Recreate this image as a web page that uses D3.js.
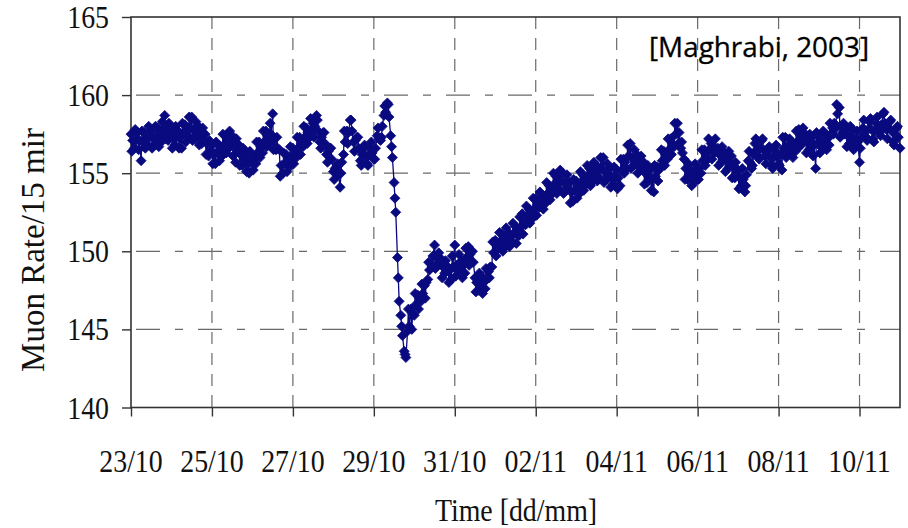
<!DOCTYPE html>
<html>
<head>
<meta charset="utf-8">
<script src="https://cdn.jsdelivr.net/npm/d3@7"></script>
<style>
  html, body { margin: 0; padding: 0; background: #fff; }
  svg { display: block; }
</style>
</head>
<body>
<svg id="chart" width="908" height="528"></svg>
<script>
// ---- data ----
const stepHours = 2;                 // each series below is sampled every 2 h
const offsetHoursC = 0.5;            // series C is read 0.5 h after series A
const offsetHoursB = 1;              // series B is read 1 h after series A
const totalDays = 19;                // 23/10 00:00 -> 11/11 00:00
const dateTickDays = [0, 2, 4, 6, 8, 10, 12, 14, 16, 18];
const dateTickLabels = ["23/10","25/10","27/10","29/10","31/10","02/11","04/11","06/11","08/11","10/11"];
const rateTicks = [140, 145, 150, 155, 160, 165];
// readings at even hours (upper / lower part of the scatter, alternately)
const rateA = [
157.5,156.6,157.6,155.8,157.6,156.8,157.7,156.8,157.9,157.0,
158.7,157.1,157.7,156.8,157.7,156.6,158.1,157.4,158.6,157.2,
158.0,156.9,157.5,156.1,156.8,155.6,156.8,156.1,157.4,156.6,
157.4,155.7,156.8,155.5,156.3,155.0,156.1,155.6,157.0,156.3,
157.7,156.9,158.8,156.5,156.5,155.0,156.2,155.4,156.6,156.0,
157.3,156.7,157.9,157.3,158.2,158.7,157.0,157.6,156.2,156.6,
155.1,155.4,154.1,156.2,157.7,158.4,157.0,157.3,155.8,156.6,
155.6,156.6,155.9,157.4,157.1,158.7,159.5,157.4,154.4,149.6,
145.9,143.6,144.9,146.3,145.9,147.2,146.8,147.8,148.2,149.2,
150.4,149.2,149.5,148.6,149.0,148.2,150.4,148.7,149.4,148.6,
150.3,149.3,148.3,147.5,148.4,147.6,148.7,149.0,150.7,150.2,
151.1,150.3,151.2,150.6,151.6,151.0,152.4,151.7,152.7,152.1,
153.4,152.8,153.6,153.1,154.2,153.7,154.8,154.0,155.0,153.9,
154.4,153.2,154.5,153.7,154.9,154.3,155.3,154.5,155.5,154.7,
156.0,154.6,155.3,154.3,155.2,154.2,155.9,155.3,156.9,155.5,
156.2,155.3,155.7,154.4,155.2,153.8,155.4,155.4,156.4,155.9,
157.2,156.7,158.2,156.6,155.9,154.6,155.2,154.4,155.3,155.0,
156.5,155.9,156.9,156.3,156.6,155.7,156.3,155.3,156.1,154.7,
155.2,154.2,153.8,155.8,155.3,156.9,156.1,157.1,156.1,156.6,
155.5,156.4,155.6,155.2,157.3,156.3,157.0,156.4,157.8,156.9,
157.5,156.5,157.3,155.3,157.4,156.6,157.5,156.8,157.9,157.9,
159.2,157.6,157.8,156.9,157.8,156.8,155.7,157.9,157.3,158.3,
157.2,158.2,157.6,158.8,157.8,158.3,157.0,157.9,156.6
];
// readings half an hour later (outer edges of the scatter)
const rateC = [
156.4,157.8,156.5,157.7,156.6,158.0,156.6,158.0,156.7,158.3,
157.2,158.2,156.6,158.0,156.6,158.2,157.0,158.6,157.1,158.3,
156.8,157.9,156.2,157.1,155.6,157.0,155.8,157.5,156.3,157.7,
156.1,157.2,155.5,156.6,155.1,156.4,155.2,157.0,156.0,157.7,
156.7,158.2,156.5,157.3,154.8,156.3,155.1,156.7,155.6,157.3,
156.2,158.0,156.9,158.5,157.3,158.4,156.6,157.6,155.7,156.6,
154.6,155.6,155.0,157.7,156.9,158.4,156.4,157.3,155.5,156.8,
155.5,157.0,155.9,157.9,157.3,159.3,159.4,156.7,153.4,148.3,
145.2,143.4,146.3,145.0,147.3,146.3,147.9,147.0,149.3,149.0,
148.9,149.9,148.3,149.4,148.0,149.7,148.4,149.8,148.3,150.2,
149.1,150.0,147.4,148.6,147.3,148.9,148.3,150.6,149.7,151.2,
150.0,151.5,150.3,151.8,150.5,152.2,151.1,152.9,151.8,153.4,
152.3,153.8,152.7,154.4,153.3,155.0,153.7,155.2,153.7,154.9,
153.1,154.6,153.4,155.1,153.9,155.5,154.2,155.7,154.5,156.0,
154.4,155.6,154.1,155.4,154.0,155.9,155.0,156.8,155.3,156.5,
155.0,156.1,154.3,155.5,153.9,155.5,154.5,156.5,155.5,157.2,
156.2,158.2,156.9,157.0,154.6,155.6,154.2,155.6,154.6,156.5,
155.5,157.2,155.9,157.2,155.5,156.7,155.1,156.4,154.7,155.7,
154.0,155.3,154.2,156.4,155.5,157.2,155.9,157.2,155.6,156.7,
155.3,156.8,155.5,157.3,156.0,157.2,156.0,157.7,156.7,157.9,
156.3,157.5,156.1,157.6,156.3,157.7,156.5,158.2,157.5,159.4,
157.3,158.2,156.7,158.0,156.5,157.7,156.6,158.4,157.1,158.5,
157.0,158.6,157.4,158.9,157.2,158.4,156.8,158.0
];
// readings at odd hours (middle of the scatter)
const rateB = [
157.1,157.1,157.1,157.0,157.2,157.3,157.3,157.3,157.4,157.6,
157.8,157.5,157.3,157.3,157.3,157.5,157.7,157.9,157.8,157.6,
157.5,157.2,156.9,156.4,156.3,156.3,156.5,156.8,157.0,157.0,
156.8,156.5,156.2,155.9,155.8,155.7,155.9,156.3,156.7,157.0,
157.4,157.5,157.2,156.6,155.5,155.6,155.8,156.0,156.3,156.6,
156.9,157.3,157.6,157.8,158.0,157.7,157.3,156.9,156.4,155.9,
155.3,154.9,155.7,157.0,157.6,157.7,157.1,156.6,156.2,156.1,
156.2,156.3,156.6,157.2,158.0,158.9,158.6,156.0,152.5,146.8,
144.6,143.2,145.2,146.0,146.6,147.0,147.3,148.0,148.8,149.7,
149.6,149.2,149.0,148.7,148.8,149.0,149.1,149.0,149.1,149.6,
149.8,149.3,148.0,147.9,148.0,148.2,149.0,149.9,150.4,150.6,
150.7,150.8,151.0,151.1,151.2,151.5,151.8,152.2,152.5,152.7,
153.0,153.1,153.4,153.7,154.0,154.3,154.4,154.5,154.4,154.2,
153.8,153.9,154.1,154.4,154.6,154.8,154.9,155.0,155.2,155.3,
155.1,154.9,154.8,154.7,154.7,155.2,155.7,156.1,156.0,155.8,
155.7,155.4,155.0,154.8,154.6,154.8,155.2,155.8,156.2,156.5,
156.9,157.5,157.6,156.3,155.3,154.9,154.9,154.9,155.3,155.8,
156.2,156.5,156.6,156.5,156.2,156.0,155.8,155.7,155.4,155.0,
154.7,154.6,154.9,155.7,156.2,156.5,156.6,156.5,156.3,156.0,
156.0,156.1,156.2,156.6,156.7,156.5,156.7,157.0,157.4,157.2,
157.0,156.8,156.8,156.9,157.0,157.0,157.2,157.5,158.2,158.8,
158.0,157.5,157.4,157.3,157.2,157.0,157.3,157.7,157.8,157.8,
157.7,157.9,158.1,158.2,157.9,157.7,157.5,157.3
];
const xTitle = "Time [dd/mm]";
const yTitle = "Muon Rate/15 mir";
const noteText = "[Maghrabi, 2003]";

// ---- layout ----
const L = 131, R = 900, T = 17, B = 407.5;
const serif = "'Liberation Serif','Times New Roman',serif";
const squeeze = 0.87;
const navy = "#0a0a80";
const gridColor = "#6a6a6a";
const frameColor = "#333";

const svg = d3.select("#chart");
const x = d3.scaleLinear().domain([0, totalDays]).range([L, R]);
const y = d3.scaleLinear().domain([140, 165]).range([B, T]);

// gridlines
svg.append("g").selectAll("line")
  .data(rateTicks.filter(v => v > 140 && v < 165))
  .join("line")
  .attr("x1", L).attr("x2", R)
  .attr("y1", d => y(d)).attr("y2", d => y(d))
  .attr("stroke", gridColor).attr("stroke-width", 1.3)
  .attr("stroke-dasharray", "24,15,8,15")
  .attr("stroke-dashoffset", 57);

svg.append("g").selectAll("line")
  .data(dateTickDays.filter(d => d > 0))
  .join("line")
  .attr("x1", d => x(d)).attr("x2", d => x(d))
  .attr("y1", T).attr("y2", B)
  .attr("stroke", gridColor).attr("stroke-width", 1.2)
  .attr("stroke-dasharray", "12,9");

// axes with outward ticks
const yAxis = d3.axisLeft(y).tickValues(rateTicks).tickSize(9).tickFormat("");
const gy = svg.append("g").attr("transform", `translate(${L},0)`).call(yAxis);
const xAxis = d3.axisBottom(x).tickValues(dateTickDays).tickSize(9).tickFormat("");
const gx = svg.append("g").attr("transform", `translate(0,${B})`).call(xAxis);
[gx, gy].forEach(g => {
  g.select(".domain").remove();
  g.selectAll("line").attr("stroke", frameColor).attr("stroke-width", 1.4);
});

// frame
svg.append("rect")
  .attr("x", L).attr("y", T).attr("width", R - L).attr("height", B - T)
  .attr("fill", "none").attr("stroke", frameColor).attr("stroke-width", 1.6);

// tick labels
svg.append("g").selectAll("text")
  .data(rateTicks)
  .join("text")
  .attr("transform", d => `translate(109,${y(d) + 11}) scale(${squeeze},1)`)
  .attr("text-anchor", "end")
  .attr("font-family", serif).attr("font-size", 32).attr("fill", "#111")
  .text(d => d);

svg.append("g").selectAll("text")
  .data(dateTickDays)
  .join("text")
  .attr("transform", d => `translate(${x(d)},472) scale(${squeeze},1)`)
  .attr("text-anchor", "middle")
  .attr("font-family", serif).attr("font-size", 32).attr("fill", "#111")
  .text((d, i) => dateTickLabels[i]);

// axis titles
svg.append("text")
  .attr("transform", `translate(516,521) scale(${squeeze},1)`)
  .attr("text-anchor", "middle")
  .attr("font-family", serif).attr("font-size", 32).attr("fill", "#111")
  .text(xTitle);

svg.append("text")
  .attr("transform", `translate(44,250) rotate(-90)`)
  .attr("text-anchor", "middle")
  .attr("font-family", serif).attr("font-size", 33).attr("fill", "#111")
  .text(yTitle);

// data series: merge the three readings in time order
const pts = [];
rateA.forEach((v, i) => {
  pts.push({ t: (i * stepHours) / 24, v });
  if (i < rateC.length) pts.push({ t: (i * stepHours + offsetHoursC) / 24, v: rateC[i] });
  if (i < rateB.length) pts.push({ t: (i * stepHours + offsetHoursB) / 24, v: rateB[i] });
});
const line = d3.line().x(d => x(d.t)).y(d => y(d.v));
svg.append("path")
  .datum(pts)
  .attr("d", line)
  .attr("fill", "none").attr("stroke", navy).attr("stroke-width", 1.3);

svg.append("g").selectAll("path")
  .data(pts)
  .join("path")
  .attr("transform", d => `translate(${x(d.t)},${y(d.v)})`)
  .attr("d", "M0,-5L5,0L0,5L-5,0Z")
  .attr("fill", navy).attr("stroke", navy).attr("stroke-width", 0.8);

// annotation
svg.append("text")
  .attr("x", 649).attr("y", 57)
  .attr("font-family", "'Open Sans','Noto Sans',sans-serif").attr("font-size", 28)
  .attr("fill", "#000")
  .attr("stroke", "#000").attr("stroke-width", 0.3)
  .attr("textLength", 220).attr("lengthAdjust", "spacingAndGlyphs")
  .text(noteText);
</script>
</body>
</html>
